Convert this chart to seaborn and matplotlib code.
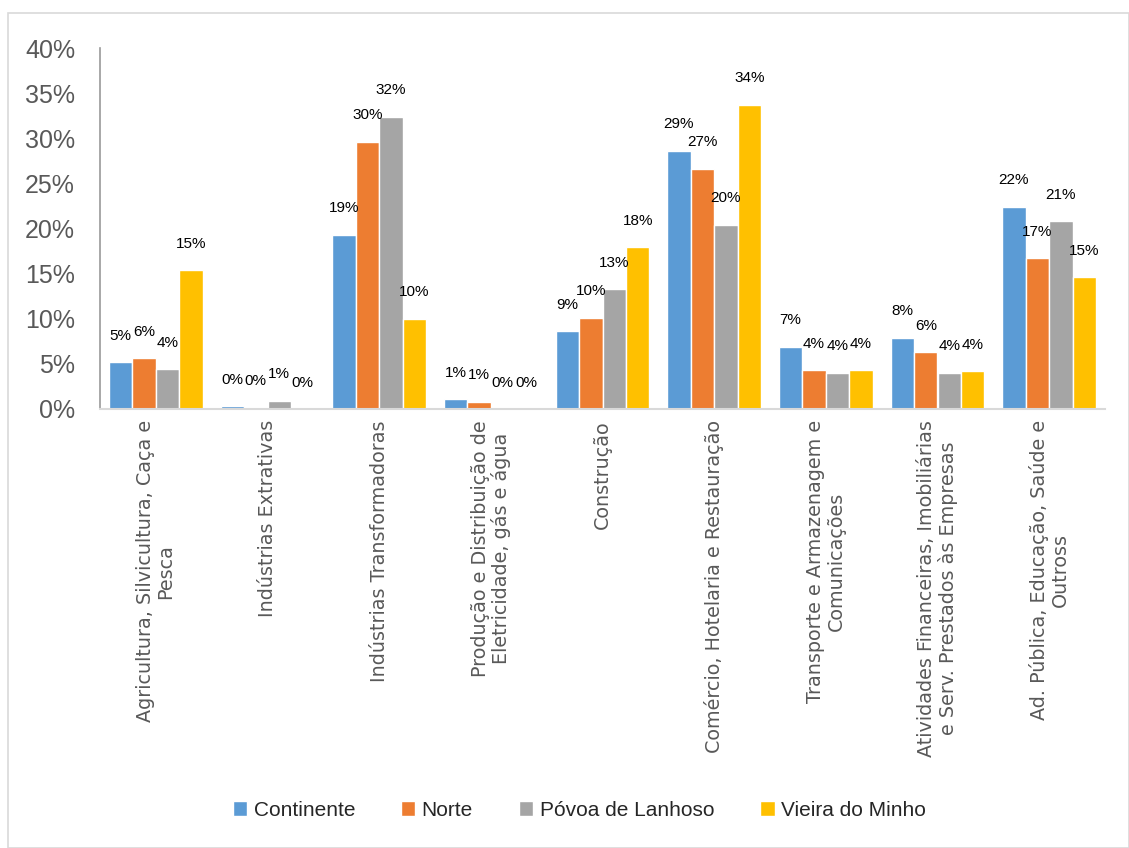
import matplotlib
matplotlib.use("Agg")
import matplotlib.pyplot as plt
import seaborn as sns
import pandas as pd
from matplotlib.patches import Rectangle

categories = [
    "Agricultura, Silvicultura, Caça e\nPesca",
    "Indústrias Extrativas",
    "Indústrias Transformadoras",
    "Produção e Distribuição de\nEletricidade, gás e água",
    "Construção",
    "Comércio, Hotelaria e Restauração",
    "Transporte e Armazenagem e\nComunicações",
    "Atividades Financeiras, Imobiliárias\ne Serv. Prestados às Empresas",
    "Ad. Pública, Educação, Saúde e\nOutross",
]
series = ["Continente", "Norte", "Póvoa de Lanhoso", "Vieira do Minho"]
continente = [5.2, 0.3, 19.3, 1.1, 8.6, 28.6, 6.9, 7.9, 22.4]
norte = [5.6, 0.2, 29.6, 0.8, 10.1, 26.6, 4.3, 6.3, 16.7]
povoa = [4.4, 0.9, 32.4, 0.0, 13.3, 20.4, 4.0, 4.0, 20.8]
vieira = [15.4, 0.0, 10.0, 0.0, 17.9, 33.7, 4.3, 4.2, 14.6]
colors = ["#5B9BD5", "#ED7D31", "#A5A5A5", "#FFC000"]
yticks = [0, 5, 10, 15, 20, 25, 30, 35, 40]

rows = []
for s, vals in zip(series, [continente, norte, povoa, vieira]):
    for c, v in zip(categories, vals):
        rows.append({"Categoria": c, "Série": s, "Valor": v})
df = pd.DataFrame(rows)

sns.set_theme(style="white")
plt.rcParams["font.family"] = ["Liberation Sans", "DejaVu Sans"]

fig = plt.figure(figsize=(11.29, 8.48), dpi=100)
ax = fig.add_axes([100 / 1129, 1 - 409 / 848, 1005 / 1129, 361 / 848])

sns.barplot(data=df, x="Categoria", y="Valor", hue="Série", order=categories,
            hue_order=series, palette=colors, width=0.84, gap=0,
            saturation=1, ax=ax, legend=True, errorbar=None)

for cont, vals in zip(ax.containers, [continente, norte, povoa, vieira]):
    ax.bar_label(cont, labels=[f"{v:.0f}%" for v in vals], padding=14,
                 fontsize=11, color="#000000")

ax.set_ylim(0, 40)
ax.set_xlim(-0.5, len(categories) - 0.5)
ax.set_yticks(yticks)
ax.set_yticklabels([f"{t}%" for t in yticks], fontsize=18, color="#595959")
ax.set_xlabel("")
ax.set_ylabel("")
ax.tick_params(axis="both", length=0)
ax.tick_params(axis="y", pad=18)
ax.set_xticks(range(len(categories)))
ax.set_xticklabels(categories, rotation=90, fontsize=13.8, color="#595959",
                   va="top", ha="center", multialignment="center",
                   family="DejaVu Sans", linespacing=1.1)
ax.tick_params(axis="x", pad=8)
for side in ["top", "right"]:
    ax.spines[side].set_visible(False)
ax.spines["left"].set_color("#9a9a9a")
ax.spines["left"].set_linewidth(1.2)
ax.spines["bottom"].set_color("#d9d9d9")
ax.spines["bottom"].set_linewidth(1.5)

handles, labels = ax.get_legend_handles_labels()
ax.get_legend().remove()
fig.legend(handles, labels, loc="center", bbox_to_anchor=(0.513, 1 - 810 / 848),
           ncol=4, frameon=False, fontsize=15, handlelength=0.7,
           handleheight=0.7, handletextpad=0.3, columnspacing=2.2)

fig.patches.append(Rectangle((8 / 1129, 0), 1 - 8 / 1129, 1 - 13 / 848,
                             transform=fig.transFigure, fill=False,
                             edgecolor="#d9d9d9", linewidth=1.2))

fig.savefig("out.png", dpi=100, facecolor="white")
